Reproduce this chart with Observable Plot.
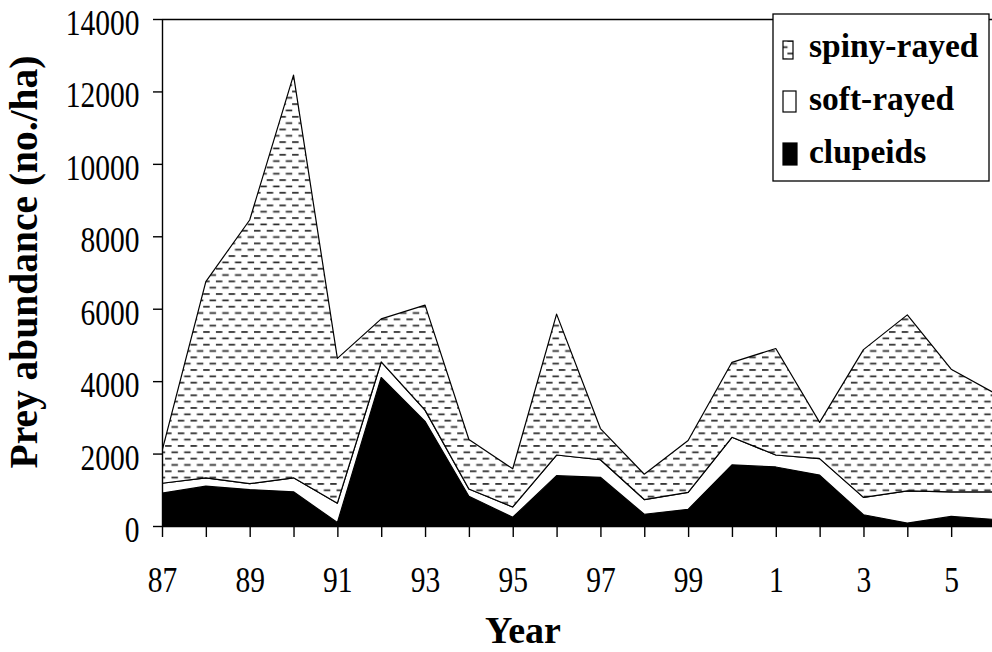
<!DOCTYPE html>
<html><head><meta charset="utf-8">
<script src="https://cdn.jsdelivr.net/npm/d3@7"></script>
<script src="https://cdn.jsdelivr.net/npm/@observablehq/plot@0.6"></script>
<style>
html,body{margin:0;padding:0;background:#fff;overflow:hidden}
</style></head><body><div id="chart"></div>
<script>
const years      = [1987,1988,1989,1990,1991,1992,1993,1994,1995,1996,1997,1998,1999,2000,2001,2002,2003,2004,2005,2006];
const clupeids   = [ 910,1100,1005, 945,  95,4100,2890, 820, 240,1390,1345, 325, 460,1690,1630,1405, 310,  80, 265, 180];
const softRayed  = [ 270, 230, 165, 385, 535, 430, 310, 200, 285, 570, 485, 405, 470, 760, 330, 455, 480, 890, 675, 760];
const spinyRayed = [ 890,5420,7280,11120,4000,1190,2900,1370,1055,3890, 860, 700,1430,2070,2940,1000,4080,4860,3390,2720];
const seriesNames = ["spiny-rayed","soft-rayed","clupeids"];
const stackOrder  = ["clupeids","soft-rayed","spiny-rayed"];
const yTicks = [0,2000,4000,6000,8000,10000,12000,14000];
const xTicks = [1987,1988,1989,1990,1991,1992,1993,1994,1995,1996,1997,1998,1999,2000,2001,2002,2003,2004,2005];
const xTitle = "Year";
const yTitle = "Prey abundance (no./ha)";

const rows = [];
years.forEach((yr, i) => {
  rows.push({year: yr, series: "clupeids", value: clupeids[i]});
  rows.push({year: yr, series: "soft-rayed", value: softRayed[i]});
  rows.push({year: yr, series: "spiny-rayed", value: spinyRayed[i]});
});

const serif = "'Liberation Serif','Times New Roman',serif";
const chart = Plot.plot({
  width: 992, height: 652,
  marginLeft: 162, marginRight: 0, marginTop: 19, marginBottom: 126,
  style: {fontFamily: serif, fontSize: "36px", background: "white", color: "black"},
  x: {domain: [1987, 2006], range: [162, 995], label: null},
  y: {domain: [0, 14000], label: null},
  color: {domain: stackOrder, range: ["black", "white", "url(#spinyPattern)"]},
  marks: [
    Plot.areaY(rows, {x: "year", y: "value", z: "series", fill: "series", order: stackOrder,
      stroke: "black", strokeWidth: 1.2, clip: true}),
    Plot.ruleY([0, 14000], {stroke: "black", strokeWidth: 1.4}),
    Plot.ruleX([1987], {stroke: "black", strokeWidth: 1.4}),
    Plot.axisY({ticks: yTicks, tickSize: 9, tickPadding: 14, tickFormat: d3.format("d"),
      fontSize: 36, strokeWidth: 1.4, label: null}),
    Plot.axisX({ticks: xTicks, tickSize: 11, tickPadding: 29,
      tickFormat: d => (d % 2 ? String(d % 100) : ""), fontSize: 36, strokeWidth: 1.4, label: null})
  ]
});
document.getElementById("chart").appendChild(chart);

const svg = d3.select(chart);
// pattern for spiny-rayed
const defs = svg.insert("defs", ":first-child");
const pat = defs.append("pattern").attr("id", "spinyPattern")
  .attr("patternUnits", "userSpaceOnUse").attr("width", 12.7).attr("height", 12.66);
pat.append("rect").attr("width", 12.7).attr("height", 12.66).attr("fill", "white");
pat.append("rect").attr("x", 0).attr("y", 2).attr("width", 6.5).attr("height", 1.7).attr("fill", "#2a2a2a");
pat.append("rect").attr("x", 6.35).attr("y", 8.33).attr("width", 6.35).attr("height", 1.7).attr("fill", "#2a2a2a");
pat.append("rect").attr("x", 0).attr("y", 8.33).attr("width", 0.15).attr("height", 1.7).attr("fill", "#2a2a2a");

// condense tick labels like the reference
function condense(sel, sx, dy) {
  sel.each(function() {
    const t = this.getAttribute("transform") || "";
    this.setAttribute("transform", `${t} translate(0,${dy}) scale(${sx},1)`);
  });
}
condense(svg.selectAll("[aria-label='y-axis tick label'] text"), 0.82, 4);
condense(svg.selectAll("[aria-label='x-axis tick label'] text"), 0.82, 0);

// axis titles
svg.append("text").attr("transform", "translate(37,262) rotate(-90)")
  .attr("text-anchor", "middle").attr("font-family", serif).attr("font-weight", "bold")
  .attr("font-size", 39.5).attr("fill", "black").text(yTitle);
svg.append("text").attr("x", 523).attr("y", 643)
  .attr("text-anchor", "middle").attr("font-family", serif).attr("font-weight", "bold")
  .attr("font-size", 38).attr("fill", "black").text(xTitle);

// legend
const lg = svg.append("g");
lg.append("rect").attr("x", 773).attr("y", 14).attr("width", 216).attr("height", 167)
  .attr("fill", "white").attr("stroke", "black").attr("stroke-width", 1.3);
const swFill = {"spiny-rayed": "url(#spinyPattern)", "soft-rayed": "white", "clupeids": "black"};
const swSize = {"spiny-rayed": [10, 18], "soft-rayed": [13, 21], "clupeids": [14, 22]};
seriesNames.forEach((name, i) => {
  const base = 57 + i * 53;
  const [w, h] = swSize[name];
  lg.append("rect").attr("x", 783).attr("y", base + 2 - h).attr("width", w).attr("height", h)
    .attr("fill", swFill[name]).attr("stroke", "black").attr("stroke-width", 1.2);
  lg.append("text").attr("x", 809).attr("y", base).attr("text-anchor", "start").attr("font-family", serif)
    .attr("font-weight", "bold").attr("font-size", 33.5).attr("fill", "black").text(name);
});
</script></body></html>
